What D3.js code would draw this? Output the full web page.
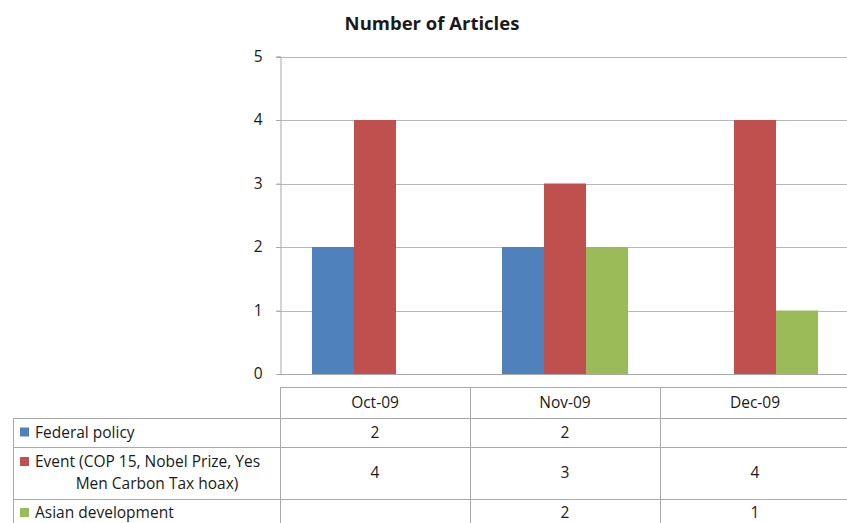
<!DOCTYPE html>
<html>
<head>
<meta charset="utf-8">
<script src="https://cdn.jsdelivr.net/npm/d3@7"></script>
<style>
  html, body { margin: 0; padding: 0; background: #fff; }
  svg { display: block; }
  text { font-family: "Open Sans", "Noto Sans", sans-serif; fill: #1a1a1a; }
</style>
</head>
<body>
<svg id="chart" width="847" height="523"></svg>
<script>
// Article counts per month, by topic
const categories = ["Oct-09", "Nov-09", "Dec-09"];
const seriesNames = ["Federal policy", "Event (COP 15, Nobel Prize, Yes Men Carbon Tax hoax)", "Asian development"];
const federalPolicy = [2, 2, null];
const eventCoverage = [4, 3, 4];
const asianDevelopment = [null, 2, 1];
const yTicks = [0, 1, 2, 3, 4, 5];
const colors = ["#4F81BD", "#C0504D", "#9BBB59"];

const seriesValues = [federalPolicy, eventCoverage, asianDevelopment];

const svg = d3.select("#chart");
const W = 847, H = 523;
const fs = "15.5px";

const plot = { left: 280, right: 850, top: 56.5, bottom: 374 };

const x = d3.scaleBand().domain(categories).range([plot.left, plot.right]).padding(0);
const xInner = d3.scaleBand().domain(d3.range(seriesNames.length))
  .range([0, x.bandwidth()]).paddingOuter(0.762).paddingInner(0);
const y = d3.scaleLinear().domain([0, 5]).range([plot.bottom, plot.top]);

// Title
svg.append("text")
  .attr("x", 432).attr("y", 30)
  .attr("text-anchor", "middle")
  .style("font-size", "18.5px").style("font-weight", "bold")
  .text("Number of Articles");

// Gridlines
svg.append("g").selectAll("line")
  .data(yTicks.filter(d => d > 0))
  .join("line")
  .attr("x1", plot.left - 4).attr("x2", plot.right)
  .attr("y1", d => Math.round(y(d)) + 0.5).attr("y2", d => Math.round(y(d)) + 0.5)
  .attr("stroke", "#b8b8b8").attr("stroke-width", 1);

// Y axis
const yAxis = d3.axisLeft(y).tickValues(yTicks).tickSize(4).tickPadding(14).tickFormat(d3.format("d"));
const gy = svg.append("g").attr("transform", `translate(${plot.left + 0.5},0)`).call(yAxis);
gy.select(".domain").attr("stroke", "#a8a8a8");
gy.selectAll(".tick line").attr("stroke", "#a8a8a8");
gy.selectAll(".tick text").style("font-size", fs).style("font-family", "\"Open Sans\", sans-serif").attr("fill", "#1a1a1a");

// Baseline
svg.append("line")
  .attr("x1", plot.left).attr("x2", plot.right)
  .attr("y1", plot.bottom + 0.5).attr("y2", plot.bottom + 0.5)
  .attr("stroke", "#a8a8a8");

// Bars
const bars = [];
seriesValues.forEach((vals, si) => {
  vals.forEach((v, ci) => {
    if (v != null) bars.push({ si, cat: categories[ci], v });
  });
});
svg.append("g").selectAll("rect")
  .data(bars)
  .join("rect")
  .attr("x", d => x(d.cat) + xInner(d.si))
  .attr("width", xInner.bandwidth())
  .attr("y", d => y(d.v))
  .attr("height", d => y(0) - y(d.v))
  .attr("fill", d => colors[d.si]);

// Data table
const tableTop = 387, headerBottom = 418;
const rowBottoms = [447, 499, 530];
const labelLeft = 13;
const lineColor = "#a8a8a8";
const tbl = svg.append("g");

// horizontal lines
tbl.append("line").attr("x1", plot.left).attr("x2", plot.right)
  .attr("y1", tableTop + 0.5).attr("y2", tableTop + 0.5).attr("stroke", lineColor);
[headerBottom, rowBottoms[0], rowBottoms[1]].forEach(yy => {
  tbl.append("line").attr("x1", labelLeft).attr("x2", plot.right)
    .attr("y1", yy + 0.5).attr("y2", yy + 0.5).attr("stroke", lineColor);
});
// vertical lines
tbl.append("line").attr("x1", labelLeft + 0.5).attr("x2", labelLeft + 0.5)
  .attr("y1", headerBottom).attr("y2", H).attr("stroke", lineColor);
categories.forEach(c => {
  tbl.append("line").attr("x1", x(c) + 0.5).attr("x2", x(c) + 0.5)
    .attr("y1", tableTop).attr("y2", H).attr("stroke", lineColor);
});

// header
tbl.selectAll("text.hdr").data(categories).join("text")
  .attr("class", "hdr")
  .attr("x", d => x(d) + x.bandwidth() / 2).attr("y", 408)
  .attr("text-anchor", "middle").style("font-size", fs)
  .text(d => d);

// rows
const rowTops = [headerBottom, rowBottoms[0], rowBottoms[1]];
const rowMid = rowTops.map((t, i) => (t + Math.min(rowBottoms[i], 526)) / 2);
rowMid[2] = 513;

seriesNames.forEach((name, si) => {
  const cy = rowMid[si];
  tbl.append("rect")
    .attr("x", 20).attr("y", si === 1 ? 457 : cy - 5)
    .attr("width", 9).attr("height", 9)
    .attr("fill", colors[si]);
  if (si === 1) {
    tbl.append("text").attr("x", 35).attr("y", 467).style("font-size", fs)
      .text("Event (COP 15, Nobel Prize, Yes");
    tbl.append("text").attr("x", 157).attr("y", 489).attr("text-anchor", "middle").style("font-size", fs)
      .text("Men Carbon Tax hoax)");
  } else {
    tbl.append("text").attr("x", 35).attr("y", cy + 5).style("font-size", fs).text(name);
  }
  seriesValues[si].forEach((v, ci) => {
    if (v == null) return;
    tbl.append("text")
      .attr("x", x(categories[ci]) + x.bandwidth() / 2).attr("y", cy + 5)
      .attr("text-anchor", "middle").style("font-size", fs)
      .text(v);
  });
});
</script>
</body>
</html>
